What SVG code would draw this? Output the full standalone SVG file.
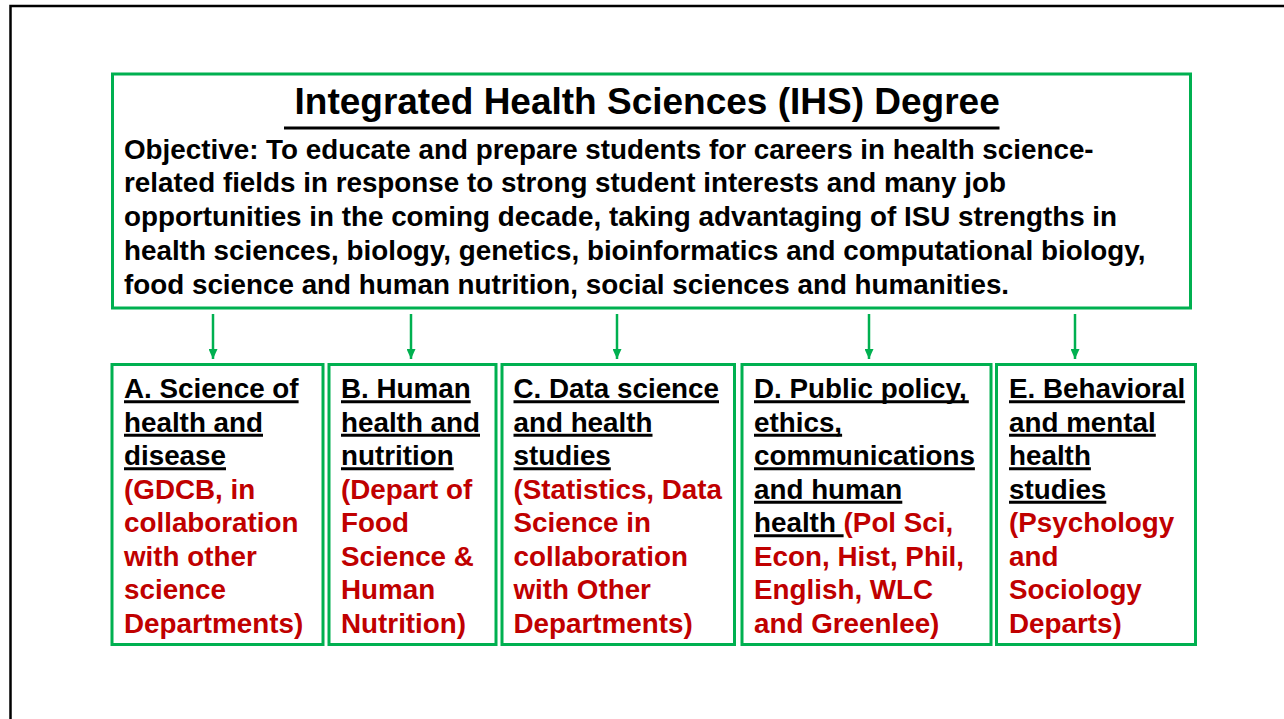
<svg xmlns="http://www.w3.org/2000/svg" width="1284" height="719" viewBox="0 0 1284 719">
  <defs>
    <style>
      .frame { fill: none; stroke: #000000; stroke-width: 2.5; }
      .box { fill: #ffffff; stroke: #00B050; stroke-width: 3; }
      .title { font-family: "Liberation Sans", Arial, sans-serif; font-weight: bold; font-size: 37px; fill: #000000; }
      .body { font-family: "Liberation Sans", Arial, sans-serif; font-weight: bold; font-size: 27.8px; fill: #000000; }
      .head { fill: #000000; }
      .dept { fill: #C00000; }
      .ul { stroke: #000000; stroke-width: 3; }
      .conn { stroke: #00B050; stroke-width: 2.5; fill: none; }
    </style>
    <marker id="arrow" viewBox="0 0 10 9" refX="10" refY="4.5" markerUnits="userSpaceOnUse" markerWidth="10" markerHeight="9" orient="auto">
      <path d="M0,0 L10,4.5 L0,9 Z" fill="#00B050"/>
    </marker>
  </defs>

  <rect width="1284" height="719" fill="#ffffff"/>
  <!-- slide frame -->
  <rect class="frame" x="10.5" y="6" width="1400" height="800"/>

  <!-- top node: degree and objective -->
  <g id="node-degree">
    <rect class="box" x="112.5" y="74" width="1078" height="234"/>
    <text class="title" x="294.5" y="114">Integrated Health Sciences (IHS) Degree</text>
    <line class="ul" x1="284" y1="128" x2="999.5" y2="128"/>
    <text class="body" x="124">
      <tspan x="124" y="158.5">Objective: To educate and prepare students for careers in health science-</tspan>
      <tspan x="124" y="192.3">related fields in response to strong student interests and many job</tspan>
      <tspan x="124" y="226">opportunities in the coming decade, taking advantaging of ISU strengths in</tspan>
      <tspan x="124" y="259.8">health sciences, biology, genetics, bioinformatics and computational biology,</tspan>
      <tspan x="124" y="293.5">food science and human nutrition, social sciences and humanities.</tspan>
    </text>
  </g>

  <!-- connectors -->
  <g id="connectors">
    <line class="conn" x1="213" y1="314" x2="213" y2="359" marker-end="url(#arrow)"/>
    <line class="conn" x1="411" y1="314" x2="411" y2="359" marker-end="url(#arrow)"/>
    <line class="conn" x1="617" y1="314" x2="617" y2="359" marker-end="url(#arrow)"/>
    <line class="conn" x1="869" y1="314" x2="869" y2="359" marker-end="url(#arrow)"/>
    <line class="conn" x1="1075" y1="314" x2="1075" y2="359" marker-end="url(#arrow)"/>
  </g>

  <!-- A -->
  <g id="node-a">
    <rect class="box" x="112" y="364.5" width="211" height="280"/>
    <text class="body">
      <tspan class="head" x="124" y="398">A. Science of</tspan>
      <tspan class="head" x="124" y="431.5">health and</tspan>
      <tspan class="head" x="124" y="465">disease</tspan>
      <tspan class="dept" x="124" y="498.5">(GDCB, in</tspan>
      <tspan class="dept" x="124" y="532">collaboration</tspan>
      <tspan class="dept" x="124" y="565.5">with other</tspan>
      <tspan class="dept" x="124" y="599">science</tspan>
      <tspan class="dept" x="124" y="632.5">Departments)</tspan>
    </text>
    <line class="ul" x1="124" y1="401.8" x2="298.6" y2="401.8"/>
    <line class="ul" x1="124" y1="435.3" x2="263" y2="435.3"/>
    <line class="ul" x1="124" y1="468.8" x2="226" y2="468.8"/>
  </g>

  <!-- B -->
  <g id="node-b">
    <rect class="box" x="329" y="364.5" width="167" height="280"/>
    <text class="body">
      <tspan class="head" x="341" y="398">B. Human</tspan>
      <tspan class="head" x="341" y="431.5">health and</tspan>
      <tspan class="head" x="341" y="465">nutrition</tspan>
      <tspan class="dept" x="341" y="498.5">(Depart of</tspan>
      <tspan class="dept" x="341" y="532">Food</tspan>
      <tspan class="dept" x="341" y="565.5">Science &amp;</tspan>
      <tspan class="dept" x="341" y="599">Human</tspan>
      <tspan class="dept" x="341" y="632.5">Nutrition)</tspan>
    </text>
    <line class="ul" x1="341" y1="401.8" x2="470.7" y2="401.8"/>
    <line class="ul" x1="341" y1="435.3" x2="480" y2="435.3"/>
    <line class="ul" x1="341" y1="468.8" x2="453.7" y2="468.8"/>
  </g>

  <!-- C -->
  <g id="node-c">
    <rect class="box" x="502" y="364.5" width="232.5" height="280"/>
    <text class="body">
      <tspan class="head" x="513.5" y="398">C. Data science</tspan>
      <tspan class="head" x="513.5" y="431.5">and health</tspan>
      <tspan class="head" x="513.5" y="465">studies</tspan>
      <tspan class="dept" x="513.5" y="498.5">(Statistics, Data</tspan>
      <tspan class="dept" x="513.5" y="532">Science in</tspan>
      <tspan class="dept" x="513.5" y="565.5">collaboration</tspan>
      <tspan class="dept" x="513.5" y="599">with Other</tspan>
      <tspan class="dept" x="513.5" y="632.5">Departments)</tspan>
    </text>
    <line class="ul" x1="513.5" y1="401.8" x2="719" y2="401.8"/>
    <line class="ul" x1="513.5" y1="435.3" x2="652.5" y2="435.3"/>
    <line class="ul" x1="513.5" y1="468.8" x2="610.8" y2="468.8"/>
  </g>

  <!-- D -->
  <g id="node-d">
    <rect class="box" x="742" y="364.5" width="249" height="280"/>
    <text class="body" xml:space="preserve"><tspan class="head" x="754" y="398">D. Public policy,</tspan><tspan class="head" x="754" y="431.5">ethics,</tspan><tspan class="head" x="754" y="465">communications</tspan><tspan class="head" x="754" y="498.5">and human</tspan><tspan class="head" x="754" y="532">health </tspan><tspan class="dept">(Pol Sci,</tspan><tspan class="dept" x="754" y="565.5">Econ, Hist, Phil,</tspan><tspan class="dept" x="754" y="599">English, WLC</tspan><tspan class="dept" x="754" y="632.5">and Greenlee)</tspan></text>
    <line class="ul" x1="754" y1="401.8" x2="968.8" y2="401.8"/>
    <line class="ul" x1="754" y1="435.3" x2="842.1" y2="435.3"/>
    <line class="ul" x1="754" y1="468.8" x2="974.9" y2="468.8"/>
    <line class="ul" x1="754" y1="502.3" x2="902.3" y2="502.3"/>
    <line class="ul" x1="754" y1="535.8" x2="843.6" y2="535.8"/>
  </g>

  <!-- E -->
  <g id="node-e">
    <rect class="box" x="996.5" y="364.5" width="199" height="280"/>
    <text class="body">
      <tspan class="head" x="1009" y="398">E. Behavioral</tspan>
      <tspan class="head" x="1009" y="431.5">and mental</tspan>
      <tspan class="head" x="1009" y="465">health</tspan>
      <tspan class="head" x="1009" y="498.5">studies</tspan>
      <tspan class="dept" x="1009" y="532">(Psychology</tspan>
      <tspan class="dept" x="1009" y="565.5">and</tspan>
      <tspan class="dept" x="1009" y="599">Sociology</tspan>
      <tspan class="dept" x="1009" y="632.5">Departs)</tspan>
    </text>
    <line class="ul" x1="1009" y1="401.8" x2="1185.1" y2="401.8"/>
    <line class="ul" x1="1009" y1="435.3" x2="1155.8" y2="435.3"/>
    <line class="ul" x1="1009" y1="468.8" x2="1090.9" y2="468.8"/>
    <line class="ul" x1="1009" y1="502.3" x2="1106.3" y2="502.3"/>
  </g>
</svg>
